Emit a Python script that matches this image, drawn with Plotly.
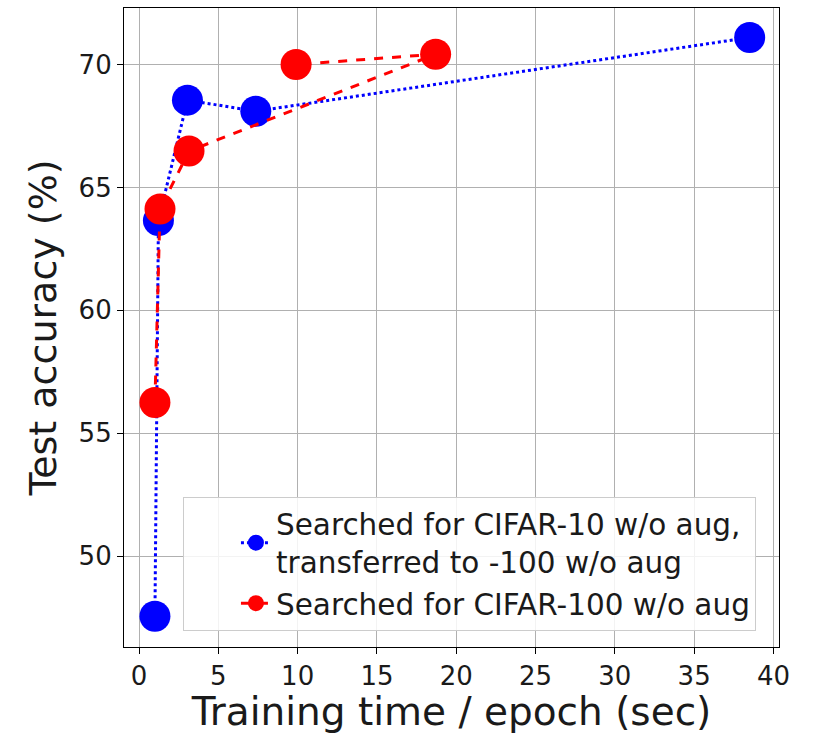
import plotly.graph_objects as go

# Training time per epoch (sec) vs. test accuracy (%) on CIFAR-100
transfer_time = [1.0, 1.22, 3.05, 7.36, 38.5]
transfer_acc = [47.55, 63.65, 68.55, 68.1, 71.1]

direct_time = [1.0, 1.32, 3.15, 18.7, 9.9]
direct_acc = [56.25, 64.12, 66.48, 70.42, 70.0]

transfer_label = "Searched for CIFAR-10 w/o aug,<br>transferred to -100 w/o aug"
direct_label = "Searched for CIFAR-100 w/o aug"

x_ticks = [0, 5, 10, 15, 20, 25, 30, 35, 40]
y_ticks = [50, 55, 60, 65, 70]

FONT = "DejaVu Sans"

fig = go.Figure()
fig.add_trace(go.Scatter(
    x=transfer_time, y=transfer_acc, name=transfer_label,
    mode="lines+markers",
    line=dict(color="#0000ff", width=3, dash="dot"),
    marker=dict(color="#0000ff", size=31, symbol="circle"),
))
fig.add_trace(go.Scatter(
    x=direct_time, y=direct_acc, name=direct_label,
    mode="lines+markers",
    line=dict(color="#ff0000", width=3, dash="dash"),
    marker=dict(color="#ff0000", size=31, symbol="circle"),
))

axis_common = dict(
    showline=True, linecolor="black", linewidth=1.2, mirror=True,
    showgrid=True, gridcolor="#b0b0b0", gridwidth=1,
    ticks="outside", ticklen=6, tickwidth=1.2, tickcolor="black",
    zeroline=False,
    tickfont=dict(family=FONT, size=26, color="#1a1a1a"),
)

fig.update_xaxes(
    range=[-0.95, 40.35], tickvals=x_ticks,
    title=dict(text="Training time / epoch (sec)", font=dict(family=FONT, size=39, color="#1a1a1a"), standoff=6),
    **axis_common,
)
fig.update_yaxes(
    range=[46.3, 72.3], tickvals=y_ticks,
    title=dict(text="Test accuracy (%)", font=dict(family=FONT, size=38, color="#1a1a1a"), standoff=10),
    **axis_common,
)

fig.update_layout(
    width=815, height=734,
    margin=dict(l=124, r=36, t=8, b=87),
    plot_bgcolor="white", paper_bgcolor="white",
    font=dict(family=FONT, color="#1a1a1a"),
    legend=dict(
        x=0.09, y=0.235, xanchor="left", yanchor="top",
        bgcolor="rgba(255,255,255,0.85)", bordercolor="#cccccc", borderwidth=1,
        font=dict(family=FONT, size=29.5, color="#1a1a1a"),
        itemsizing="trace",
        indentation=52,
        tracegroupgap=2,
    ),
)

fig.write_html("out.html")
